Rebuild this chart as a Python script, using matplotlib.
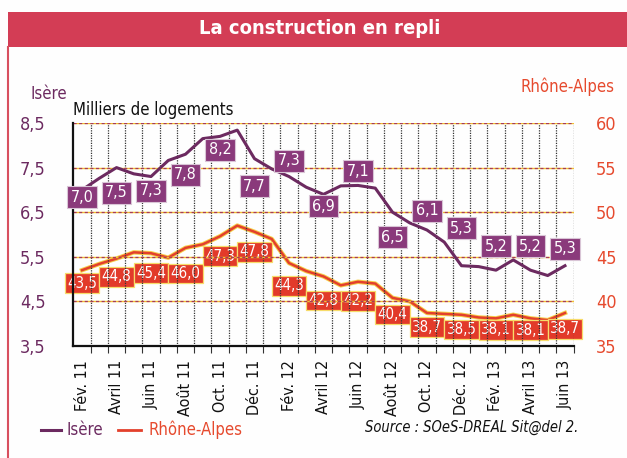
import matplotlib
matplotlib.use("Agg")
import matplotlib.pyplot as plt
import matplotlib.font_manager as fm
from matplotlib.font_manager import FontProperties
from matplotlib.patches import Rectangle
from matplotlib.lines import Line2D
from matplotlib.ticker import FixedLocator

# ---------------- data ----------------
months = ["Fév. 11", "Mars 11", "Avril 11", "Mai 11", "Juin 11", "Juil. 11", "Août 11",
          "Sept. 11", "Oct. 11", "Nov. 11", "Déc. 11", "Janv. 12", "Fév. 12", "Mars 12",
          "Avril 12", "Mai 12", "Juin 12", "Juil. 12", "Août 12", "Sept. 12", "Oct. 12",
          "Nov. 12", "Déc. 12", "Janv. 13", "Fév. 13", "Mars 13", "Avril 13", "Mai 13",
          "Juin 13"]
isere = [7.0, 7.26, 7.5, 7.36, 7.3, 7.66, 7.8, 8.15, 8.2, 8.34, 7.7, 7.47, 7.3, 7.06,
         6.9, 7.09, 7.1, 7.04, 6.5, 6.26, 6.1, 5.83, 5.3, 5.28, 5.2, 5.43, 5.2, 5.08, 5.3]
rhone = [43.5, 44.2, 44.8, 45.5, 45.4, 44.9, 46.0, 46.4, 47.3, 48.5, 47.8, 47.0, 44.3,
         43.4, 42.8, 41.8, 42.2, 42.0, 40.4, 40.0, 38.7, 38.6, 38.5, 38.2, 38.1, 38.5,
         38.1, 37.9, 38.7]
label_months = list(range(0, 29, 2))
isere_labels = [7.0, 7.5, 7.3, 7.8, 8.2, 7.7, 7.3, 6.9, 7.1, 6.5, 6.1, 5.3, 5.2, 5.2, 5.3]
rhone_labels = [43.5, 44.8, 45.4, 46.0, 47.3, 47.8, 44.3, 42.8, 42.2, 40.4, 38.7, 38.5,
                38.1, 38.1, 38.7]
left_ticks = [3.5, 4.5, 5.5, 6.5, 7.5, 8.5]
right_ticks = [35, 40, 45, 50, 55, 60]

# layout: vertical placement of the value boxes (in each axis' units)
isere_box_y = [6.84, 6.94, 6.98, 7.34, 7.90, 7.08, 7.65, 6.63, 7.42, 5.94, 6.53, 6.14,
               5.74, 5.74, 5.68]
rhone_box_y = [42.04, 42.78, 43.17, 43.12, 45.08, 45.58, 41.73, 40.10, 40.05, 38.53,
               37.13, 36.86, 36.80, 36.76, 36.93]

# ---------------- fonts ----------------
def _is_cond(f):
    s = (f.name + " " + str(f.stretch) + " " + f.fname).lower()
    return ("narrow" in s) or ("condensed" in s)

cond = [f for f in fm.fontManager.ttflist if _is_cond(f)]

def _pick(bold=False, italic=False):
    for f in cond:
        fb = (f.weight in ("bold", 700) or (isinstance(f.weight, int) and f.weight >= 600))
        fi = f.style in ("italic", "oblique")
        if fb == bold and fi == italic:
            return f
    return None

COND_OK = len(cond) > 0
BASE = "Roboto"

def fp(size, bold=False, italic=False):
    f = _pick(bold, italic) if COND_OK else None
    if f is None and COND_OK:
        f = _pick(False, False)
    if f is not None:
        return FontProperties(fname=f.fname, size=size)
    return FontProperties(family=[BASE, "DejaVu Sans"], size=size * 0.9,
                          weight="bold" if bold else "normal",
                          style="italic" if italic else "normal")

PURPLE = "#6c2a60"
PURPLE_BOX = "#8a3a7b"
RED = "#e3402c"
RED_TXT = "#e64a2e"
BANNER = "#d33d55"

W, H = 627, 458
fig = plt.figure(figsize=(W / 100, H / 100), dpi=100)
fig.patch.set_facecolor("#fefefe")

def fx(px):
    return px / W

def fy(py):
    return 1 - py / H

# banner
fig.patches.append(Rectangle((fx(8), fy(47)), fx(W - 8), 35 / H,
                             transform=fig.transFigure, facecolor=BANNER,
                             edgecolor="none", zorder=0))
fig.text(fx(320), fy(29), "La construction en repli", color="white",
         fontproperties=fp(14.5, bold=True), ha="center", va="center")
fig.add_artist(Line2D([fx(8), fx(8)], [fy(47), 0], color="#d8505f", lw=1.5,
                      transform=fig.transFigure))

# axes
ax = fig.add_axes([fx(73.4), fy(346), fx(500.2), 223 / H])
ax.set_facecolor("none")
ax.set_xlim(-0.5, 28.5)
ax.set_ylim(3.5, 8.5)
ax2 = ax.twinx()
ax2.set_ylim(35, 60)

for s in ["top", "right"]:
    ax.spines[s].set_visible(False)
for s in ax2.spines.values():
    s.set_visible(False)
ax.spines["left"].set_linewidth(1.6)
ax.spines["bottom"].set_linewidth(1.6)
ax.spines["left"].set_color("#111111")
ax.spines["bottom"].set_color("#111111")

# grid
for k in range(1, 30):
    ax.axvline(k - 0.5, color="#333333", lw=0.9, ls=(0, (1, 1)), zorder=1)
for y in left_ticks[1:]:
    ax.axhline(y, color="#f2c230", lw=1.0, zorder=1)
    ax.axhline(y, color="#a83a5a", lw=0.9, ls=(0, (2.5, 2)), zorder=1.1)

# ticks
ax.set_yticks(left_ticks)
ax.set_yticklabels([f"{v:.1f}".replace(".", ",") for v in left_ticks])
ax.tick_params(axis="y", length=0, pad=20, labelcolor=PURPLE)
for t in ax.get_yticklabels():
    t.set_fontproperties(fp(13))
ax2.set_yticks(right_ticks)
ax2.set_yticklabels([str(v) for v in right_ticks])
ax2.tick_params(axis="y", length=0, pad=16, labelcolor=RED_TXT)
for t in ax2.get_yticklabels():
    t.set_fontproperties(fp(13))

ax.set_xticks(label_months)
ax.set_xticklabels([months[i] for i in label_months], rotation=90)
ax.tick_params(axis="x", length=0, pad=10, labelcolor="#111111")
for t in ax.get_xticklabels():
    t.set_fontproperties(fp(11.5))
ax.xaxis.set_minor_locator(FixedLocator([k - 0.5 for k in range(1, 30)]))
ax.tick_params(axis="x", which="minor", length=5, width=0.8, color="#333333",
               direction="out")

x = list(range(len(months)))
# lines
ax2.plot(x, rhone, color="#f6cf4a", lw=3.2, solid_joinstyle="round", zorder=3)
ax2.plot(x, rhone, color=RED, lw=1.8, solid_joinstyle="round", zorder=4)
ax.plot(x, isere, color=PURPLE, lw=2.2, solid_joinstyle="round", zorder=5)
ax.set_zorder(ax2.get_zorder() + 1)

# value boxes
for m, v, yb in zip(label_months, isere_labels, isere_box_y):
    ax.text(m, yb, f"{v:.1f}".replace(".", ","), color="white",
            fontproperties=fp(11.5), ha="center", va="center", zorder=6,
            bbox=dict(boxstyle="square,pad=0.22", facecolor=PURPLE_BOX,
                      edgecolor="#d9c5d6", lw=0.8))
for m, v, yb in zip(label_months, rhone_labels, rhone_box_y):
    ax2.text(m, yb, f"{v:.1f}".replace(".", ","), color="white",
             fontproperties=fp(10.8), ha="center", va="center", zorder=6,
             bbox=dict(boxstyle="square,pad=0.16", facecolor="#e23a2a",
                       edgecolor="#f7dc6a", lw=0.9))

# axis titles
fig.text(fx(30), fy(94), "Isère", color=PURPLE, fontproperties=fp(12),
         ha="left", va="center")
fig.text(fx(73), fy(110), "Milliers de logements", color="#111111",
         fontproperties=fp(12), ha="left", va="center")
fig.text(fx(614), fy(87), "Rhône-Alpes", color=RED_TXT, fontproperties=fp(12),
         ha="right", va="center")

# legend
ly = 430
fig.add_artist(Line2D([fx(41), fx(61)], [fy(ly), fy(ly)], color=PURPLE, lw=2.2,
                      transform=fig.transFigure))
fig.text(fx(66), fy(ly), "Isère", color=PURPLE, fontproperties=fp(12),
         ha="left", va="center")
fig.add_artist(Line2D([fx(118), fx(141)], [fy(ly), fy(ly)], color=RED, lw=2.0,
                      transform=fig.transFigure))
fig.text(fx(148), fy(ly), "Rhône-Alpes", color=RED_TXT, fontproperties=fp(12),
         ha="left", va="center")
fig.text(fx(578), fy(ly - 3), "Source : SOeS-DREAL Sit@del 2.", color="#111111",
         fontproperties=fp(10.5, italic=True), ha="right", va="center")

fig.savefig("out.png", dpi=100, facecolor=fig.get_facecolor())
